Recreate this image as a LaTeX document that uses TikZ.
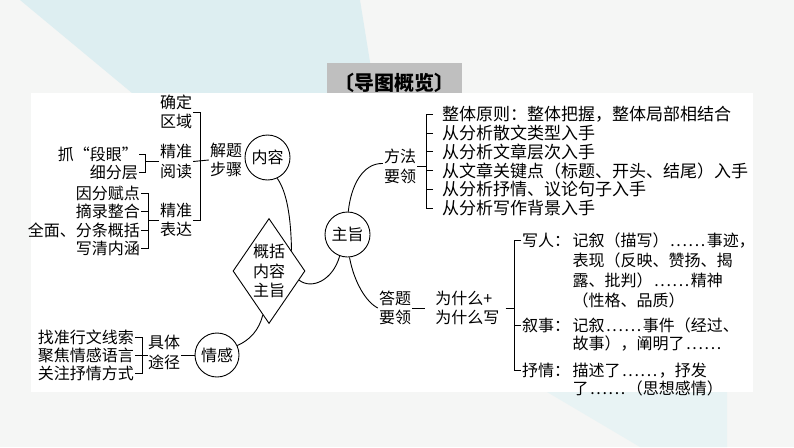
\documentclass[tikz,border=0pt]{standalone}
\usepackage{fontspec}
\setmainfont{Noto Sans CJK SC}
\usetikzlibrary{
  positioning,
  shapes.geometric
}
\definecolor{mmBack}{HTML}{F5F6F5}
\definecolor{mmCyan}{HTML}{DDEEF1}
\definecolor{mmCyanLight}{HTML}{E8F3F4}
\definecolor{mmTitle}{HTML}{BFBFBF}
\newcommand{\mmfont}{\fontsize{16pt}{19.5pt}\selectfont}
\newcommand{\mmdots}{\makebox[2.4em][s]{\hfil.\hfil.\hfil.\hfil.\hfil.\hfil.\hfil}}
\tikzset{
  mmtext/.style={font=\mmfont, inner sep=1pt, align=center},
  mmitem/.style={mmtext, anchor=west, font=\fontsize{17pt}{19pt}\selectfont},
  mmtight/.style={mmtext, align=left, font=\fontsize{16pt}{18pt}\selectfont},
  mmcircle/.style={draw, circle, minimum size=45pt, inner sep=0pt, font=\mmfont, line width=0.9pt},
  mmdiamond/.style={
    draw, diamond, aspect=0.686, minimum width=72pt, minimum height=105pt,
    inner sep=0pt, font=\mmfont, align=center, line width=0.9pt
  },
  mmline/.style={line width=0.9pt, black},
  mmtitle/.style={
    fill=mmTitle, minimum width=135pt, minimum height=30pt, text height=24pt,
    text depth=0pt, inner sep=0pt, font=\fontsize{20pt}{24pt}\selectfont\bfseries
  }
}

\begin{document}
\begin{tikzpicture}[x=1pt, y=-1pt]
  \useasboundingbox (0,0) rectangle (794,447);
  % background and panel
  \fill[mmBack] (0,0) rectangle (794,447);
  \fill[mmCyan] (20,0) -- (360,0) -- (375,93) -- (132,93) -- cycle;
  \fill[mmCyanLight] (547,392) -- (727,392) -- (727,447) -- (640,447) -- cycle;
  \fill[white] (31,93) rectangle (753,392);
  \node[mmtitle] (title) at (394.5,78) {〔导图概览〕};

  % centre
  \node[mmdiamond] (gaikuo) at (269,271) {概括\\内容\\主旨};
  \node[mmcircle] (neirong) at (267.5,157.5) {内容};
  \node[mmcircle] (zhuzhi) at (347.5,234.5) {主旨};
  \node[mmcircle, minimum size=44pt] (qinggan) at (217,355) {情感};

  % content: steps
  \node[mmtext] (jieti) at (226,160) {解题\\步骤};
  \node[mmtext] (queding) at (176,112) {确定\\区域};
  \node[mmtext] (yuedu) at (176,161.5) {精准\\阅读};
  \node[mmtext] (biaoda) at (176,220) {精准\\表达};
  \node[mmtext, anchor=east] (zhua) at (139,154) {抓“段眼”};
  \node[mmtext, anchor=east] (xifen) at (139,172) {细分层};
  \node[mmtext, anchor=east] (yinfen) at (141,193) {因分赋点};
  \node[mmtext, anchor=east] (zhailu) at (141,211.5) {摘录整合};
  \node[mmtext, anchor=east] (quanmian) at (141,230) {全面、分条概括};
  \node[mmtext, anchor=east] (xieqing) at (141,248.5) {写清内涵};
  \draw[mmline] (queding.east) -- ++(7,0) |- (biaoda.east);
  \draw[mmline] (yuedu.east) -- (jieti.west);
  \draw[mmline] (zhua.east) -- ++(6,0) |- (xifen.east);
  \draw[mmline] (yuedu.west) -- ++(-14,0);
  \draw[mmline] (yinfen.east) -- ++(7,0) |- (xieqing.east);
  \draw[mmline] (zhailu.east) -- ++(7,0);
  \draw[mmline] (quanmian.east) -- ++(7,0);
  \draw[mmline] (biaoda.west) -- ++(-11,0);

  % feeling
  \node[mmtext, anchor=east] (xiansuo) at (135,337) {找准行文线索};
  \node[mmtext, anchor=east] (yuyan) at (135,355) {聚焦情感语言};
  \node[mmtext, anchor=east] (fangshi) at (135,373) {关注抒情方式};
  \node[mmtext] (tujing) at (164,352.5) {具体\\途径};
  \draw[mmline] (xiansuo.east) -- ++(7,0) |- (fangshi.east);
  \draw[mmline] (yuyan.east) -- ++(13,0);
  \draw[mmline] (tujing.east |- qinggan.west) -- (qinggan.west);

  % theme: methods
  \node[mmtext] (fangfa) at (400,166.5) {方法\\要领};
  \foreach \txt [count=\i] in {整体原则：整体把握，整体局部相结合, 从分析散文类型入手,
      从分析文章层次入手, 从文章关键点（标题、开头、结尾）入手,
      从分析抒情、议论句子入手, 从分析写作背景入手}
    \node[mmitem] (m\i) at (441,{114.5+18.7*(\i-1)}) {\txt};
  \draw[mmline] ([xshift=-8pt]m1.west) -- ++(-7,0) |- ([xshift=-8pt]m6.west);
  \foreach \i in {2,...,5}
    \draw[mmline] ([xshift=-8pt]m\i.west) -- ++(-7,0);
  \draw[mmline] (fangfa.east) -- ++(9,0);

  % theme: answers
  \node[mmtext] (dati) at (395,308) {答题\\要领};
  \node[mmtext, align=left, right=22pt of dati] (weishenme) {为什么+\\为什么写};
  \draw[mmline, shorten >=9pt] (dati.east) -- (weishenme.west);
  \node[mmtext, anchor=west] (xieren) at (521,240) {写人：};
  \node[mmtext, anchor=west] (xushi) at (521,325) {叙事：};
  \node[mmtext, anchor=west] (shuqing) at (521,370.5) {抒情：};
  \node[mmtext, align=left, anchor=north west, font=\fontsize{16pt}{20pt}\selectfont]
    (xierenTxt) at (xieren.north east)
    {记叙（描写）\mmdots 事迹，\\表现（反映、赞扬、揭\\露、批判）\mmdots 精神\\（性格、品质）};
  \node[mmtight, anchor=north west] (xushiTxt) at (xushi.north east)
    {记叙\mmdots 事件（经过、\\故事），阐明了\mmdots};
  \node[mmtight, anchor=north west] (shuqingTxt) at (shuqing.north east)
    {描述了\mmdots ，抒发\\了\mmdots （思想感情）};
  \draw[mmline] ([xshift=5pt]weishenme.east) -- ++(9,0);
  \draw[mmline] (xieren.west) -- ++(-7,0) |- (shuqing.west);
  \draw[mmline] (xushi.west) -- ++(-7,0);

  % links
  \draw[mmline] (neirong.-65) .. controls (287,192) and (291,218) .. (gaikuo.42);
  \draw[mmline] (zhuzhi.-110) .. controls (333,280) and (312,290) .. (gaikuo.-17);
  \draw[mmline] (zhuzhi.88) .. controls (351,185) and (363,163) .. (fangfa.170);
  \draw[mmline] (zhuzhi.-85) .. controls (354,282) and (366,302) .. (dati.west);
  \draw[mmline] (gaikuo.-98) .. controls (259,330) and (250,340) .. (qinggan.25);
\end{tikzpicture}
\end{document}
